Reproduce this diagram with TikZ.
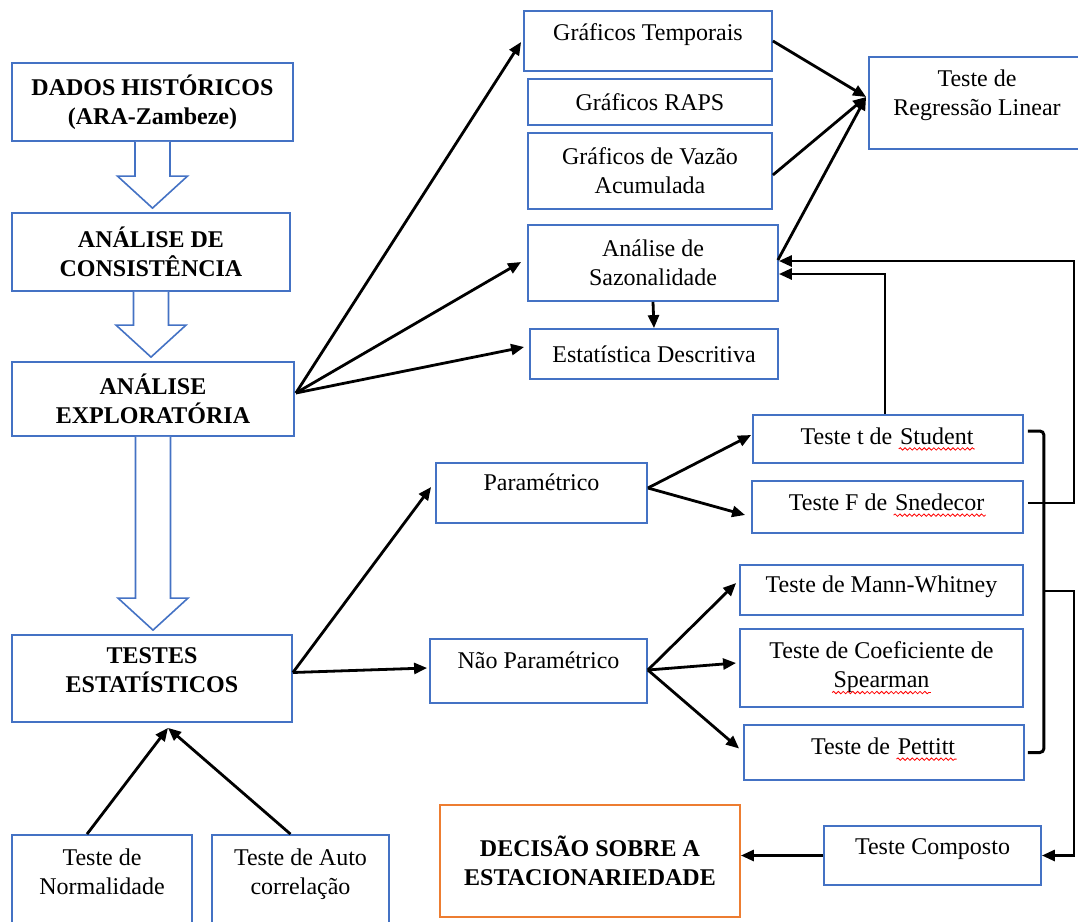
\documentclass[tikz,border=0pt]{standalone}
\usepackage{fontspec}
\setmainfont{Liberation Serif}
\usetikzlibrary{arrows.meta, calc, decorations.pathmorphing}
\definecolor{cblue}{HTML}{4472C4}
\definecolor{corange}{HTML}{ED7D31}
\newcommand\spellwave[1]{\tikz[baseline=(w.base)]{%
  \node[inner sep=0pt, draw=none, minimum width=0pt, minimum height=0pt, text height=, text depth=] (w) {#1};
  \draw[red, line width=0.4pt, decorate, decoration={snake, amplitude=0.6pt, segment length=2.4pt}]
    ([yshift=-2.4pt]w.base west) -- ([yshift=-2.4pt]w.base east);}}
\tikzset{
  every picture/.style={font=\fontsize{12}{14.5}\selectfont, line width=1.4pt},
  box/.style={draw=#1, line width=0.9pt, align=center, inner sep=2pt},
  box/.default=cblue,
  heading/.style={font=\fontsize{12}{14.5}\selectfont\bfseries},
  lift/.style={text depth=#1},
  arrow/.style={-{Triangle[length=6.5pt,width=5.5pt]}, line width=1.4pt},
  bracket/.style={line width=1.5pt, rounded corners=2pt},
  hollow/.style={draw=cblue, line width=0.8pt, fill=white},
}

\begin{document}
\begin{tikzpicture}[x=0.5pt, y=-0.5pt]
  \useasboundingbox (0,0) rectangle (1078,922);
  % left column
  \node[box, heading, minimum width=140.5pt, minimum height=39pt] (dados) at (152.5,102) {DADOS HISTÓRICOS\\(ARA-Zambeze)};
  \node[box, heading, minimum width=139pt, minimum height=39pt] (consist) at (151,252) {ANÁLISE DE\\CONSISTÊNCIA};
  \node[box, heading, minimum width=141pt, minimum height=37pt] (explor) at (153,399) {ANÁLISE\\EXPLORATÓRIA};
  \node[box, heading, lift=8.5pt, minimum width=140pt, minimum height=43.5pt] (testes) at (152,678.5) {TESTES\\ESTATÍSTICOS};
  \node[box, lift=15.5pt, minimum width=90pt, minimum height=52.5pt] (normal) at (102,887.5) {Teste de\\Normalidade};
  \node[box, lift=15.5pt, minimum width=88.5pt, minimum height=52.5pt] (auto) at (300.5,887.5) {Teste de Auto\\correlação};
  % exploratory analysis
  \node[box, lift=9pt, minimum width=124pt, minimum height=30pt] (temporais) at (648,41) {Gráficos Temporais};
  \node[box, minimum width=122pt, minimum height=23pt] (raps) at (650,102) {Gráficos RAPS};
  \node[box, minimum width=122pt, minimum height=38pt] (vazao) at (650,171) {Gráficos de Vazão\\Acumulada};
  \node[box, minimum width=125pt, minimum height=38pt] (sazon) at (653,263) {Análise de\\Sazonalidade};
  \node[box, minimum width=124pt, minimum height=25pt] (estat) at (654,354) {Estatística Descritiva};
  \node[box, lift=10pt, minimum width=108pt, minimum height=46pt] (regress) at (977,103) {Teste de\\Regressão Linear};
  % statistical tests
  \node[box, lift=11pt, minimum width=105.5pt, minimum height=30pt] (param) at (541.5,493) {Paramétrico};
  \node[box, lift=11pt, minimum width=108.5pt, minimum height=32pt] (naoparam) at (538.5,671) {Não Paramétrico};
  \node[box, minimum width=135pt, minimum height=24pt] (student) at (888,439) {Teste t de \spellwave{Student}};
  \node[box, lift=5pt, minimum width=135.5pt, minimum height=26pt] (snedecor) at (887.5,507) {Teste F de \spellwave{Snedecor}};
  \node[box, lift=6pt, minimum width=141.5pt, minimum height=25pt] (mw) at (881.5,590) {Teste de Mann-Whitney};
  \node[box, minimum width=141.5pt, minimum height=39pt] (spearman) at (881.5,668) {Teste de Coeficiente de\\\spellwave{Spearman}};
  \node[box, lift=6.5pt, minimum width=140pt, minimum height=27.5pt] (pettitt) at (884,752.5) {Teste de \spellwave{Pettitt}};
  \node[box, lift=8.5pt, minimum width=108.5pt, minimum height=29.5pt] (composto) at (932.5,855.5) {Teste Composto};
  \node[box=corange, heading, minimum width=150pt, minimum height=56pt] (decisao) at (590,861) {DECISÃO SOBRE A\\ESTACIONARIEDADE};

  % hollow arrows down the left column
  \foreach \a/\b in {dados/consist, consist/explor, explor/testes}
    \draw[hollow] let \p1=(\a.south), \p2=(\b.north) in
      (\x1-8.75pt,\y1) -- (\x1-8.75pt,\y2+18pt) -- (\x1-17.5pt,\y2+18pt) -- (\x1,\y2+2pt)
      -- (\x1+17.5pt,\y2+18pt) -- (\x1+8.75pt,\y2+18pt) -- (\x1+8.75pt,\y1);

  % exploratory branch
  \coordinate (exo) at ($(explor.east)+(1,-6)$);
  \draw[arrow] (exo) -- ($(temporais.west)+(-2,1)$);
  \draw[arrow] (exo) -- ($(sazon.west)+(-6,-1)$);
  \draw[arrow] (exo) -- ($(estat.west)+(-5,-7)$);
  \draw[arrow] (sazon.south) -- (estat.north);
  \coordinate (rin) at ($(regress.west)+(-2,-6)$);
  \draw[arrow] (temporais.east) -- (rin);
  \draw[arrow] ($(vazao.east)+(0,4)$) -- (rin);
  \draw[arrow] ($(sazon.east)+(-1,-3)$) -- (rin);

  % tests branch
  \coordinate (tso) at ($(testes.east)+(0,-6)$);
  \draw[arrow] (tso) -- ($(param.west)+(-4,-6)$);
  \draw[arrow] (tso) -- ($(naoparam.west)+(-2,-3)$);
  \coordinate (po) at ($(param.east)+(0,-5)$);
  \draw[arrow] (po) -- ($(student.west)+(-1,-4)$);
  \draw[arrow] (po) -- ($(snedecor.west)+(-6,8)$);
  \coordinate (npo) at ($(naoparam.east)+(0,-1)$);
  \draw[arrow] (npo) -- ($(mw.west)+(-3,-7)$);
  \draw[arrow] (npo) -- ($(spearman.west)+(-3,-5)$);
  \draw[arrow] (npo) -- ($(pettitt.west)+(-4,-4)$);
  \draw[arrow] ($(normal.north)+(-15,0)$) -- ($(testes.south)+(16,5)$);
  \draw[arrow] ($(auto.north)+(-10,0)$) -- ($(testes.south)+(16,5)$);

  % feedback to seasonality
  \draw[arrow] ($(student.north)+(-3,0)$) |- ($(sazon.east)+(0,11)$);
  \draw[arrow] ($(snedecor.east)+(4,-4)$) -- ++(46,0) |- ($(sazon.east)+(0,-2)$);

  % bracket and composite test
  \draw[bracket] ($(student.east)+(4,-8)$) -- ++(16,0) -- ($(pettitt.east)+(19,0)$) -- ($(pettitt.east)+(3,0)$);
  \coordinate (brk) at ($(mw.east)+(20,1)$);
  \draw[arrow] (brk) -- ++(30,0) |- (composto.east);
  \draw[arrow] (composto.west) -- (composto.west -| decisao.east);
\end{tikzpicture}
\end{document}
